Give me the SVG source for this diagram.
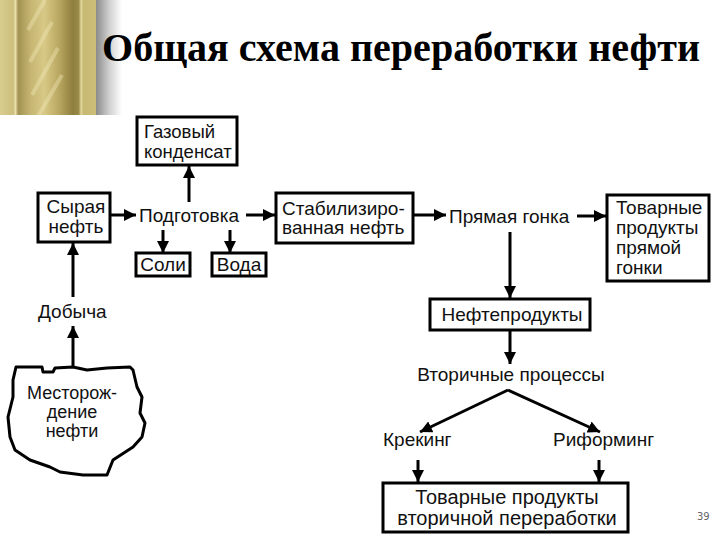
<svg xmlns="http://www.w3.org/2000/svg" width="720" height="540" viewBox="0 0 720 540">
<style>
.box{fill:#fff;stroke:#000;stroke-width:3}
.t{font-family:"Liberation Sans",Arial,sans-serif;font-size:19px;fill:#111}
.c{stroke:#000;stroke-width:3;fill:none}
</style>
<defs>
<linearGradient id="gold" x1="0" y1="0" x2="1" y2="0">
<stop offset="0" stop-color="#d9cd8e"/>
<stop offset="0.14" stop-color="#cdbf7c"/>
<stop offset="0.16" stop-color="#ece2ad"/>
<stop offset="0.19" stop-color="#a39352"/>
<stop offset="0.32" stop-color="#c6b672"/>
<stop offset="0.46" stop-color="#d8c987"/>
<stop offset="0.62" stop-color="#b7a65f"/>
<stop offset="0.76" stop-color="#8e7e3f"/>
<stop offset="0.82" stop-color="#9b8b49"/>
<stop offset="0.845" stop-color="#e2d79e"/>
<stop offset="0.87" stop-color="#c7b872"/>
<stop offset="1" stop-color="#cdbf7a"/>
</linearGradient>
<linearGradient id="shade" x1="0" y1="0" x2="1" y2="0">
<stop offset="0" stop-color="#8a8a8a"/>
<stop offset="0.5" stop-color="#cfcfcf"/>
<stop offset="1" stop-color="#ffffff"/>
</linearGradient>
<clipPath id="rod"><rect x="20" y="0" width="55" height="115"/></clipPath>
<marker id="ah" markerUnits="userSpaceOnUse" markerWidth="12" markerHeight="12" viewBox="0 0 12 12" refX="12" refY="6" orient="auto">
<path d="M0,0 L12,6 L0,12 z" fill="#000"/>
</marker>
</defs>
<rect width="720" height="540" fill="#fff"/>
<g id="decor">
<rect x="0" y="0" width="96" height="115" fill="url(#gold)"/>
<rect x="96" y="0" width="26" height="115" fill="url(#shade)"/>
<g clip-path="url(#rod)" stroke="#f3eab8" stroke-width="4" opacity="0.4">
<line x1="28" y1="30" x2="45" y2="0"/>
<line x1="30" y1="62" x2="52" y2="22"/>
<line x1="32" y1="95" x2="58" y2="48"/>
<line x1="36" y1="120" x2="62" y2="75"/>
</g>
</g>
<text id="title" x="102" y="61" font-family="'Liberation Serif','Times New Roman',serif" font-weight="bold" font-size="40" textLength="598" lengthAdjust="spacingAndGlyphs" fill="#000">Общая схема переработки нефти</text>
<g id="connectors">
<line class="c" x1="73" y1="297" x2="73" y2="243" marker-end="url(#ah)"/>
<line class="c" x1="73" y1="367" x2="73" y2="326" marker-end="url(#ah)"/>
<line class="c" x1="110" y1="215" x2="136" y2="215" marker-end="url(#ah)"/>
<line class="c" x1="189" y1="202" x2="189" y2="166" marker-end="url(#ah)"/>
<line class="c" x1="163" y1="230" x2="163" y2="253" marker-end="url(#ah)"/>
<line class="c" x1="230" y1="230" x2="230" y2="253" marker-end="url(#ah)"/>
<line class="c" x1="246" y1="215" x2="275" y2="215" marker-end="url(#ah)"/>
<line class="c" x1="413" y1="215" x2="446" y2="215" marker-end="url(#ah)"/>
<line class="c" x1="577" y1="216" x2="606" y2="216" marker-end="url(#ah)"/>
<line class="c" x1="510" y1="232" x2="510" y2="298" marker-end="url(#ah)"/>
<line class="c" x1="510" y1="331" x2="510" y2="364" marker-end="url(#ah)"/>
<line class="c" x1="508" y1="390" x2="420" y2="432" marker-end="url(#ah)"/>
<line class="c" x1="508" y1="390" x2="600" y2="432" marker-end="url(#ah)"/>
<line class="c" x1="418" y1="460" x2="418" y2="482" marker-end="url(#ah)"/>
<line class="c" x1="599" y1="460" x2="599" y2="482" marker-end="url(#ah)"/>
</g>
<g id="gas">
<rect class="box" x="137" y="117" width="100" height="48"/>
<text class="t" x="144" y="138" style="font-size:18.5px">Газовый</text>
<text class="t" x="144" y="158" style="font-size:18.5px">конденсат</text>
</g>
<g id="crude">
<rect class="box" x="38" y="193" width="72" height="49"/>
<text class="t" x="76" y="213" text-anchor="middle">Сырая</text>
<text class="t" x="76" y="233" text-anchor="middle">нефть</text>
</g>
<g id="prep">
<text class="t" x="139" y="222">Подготовка</text>
</g>
<g id="salts">
<rect class="box" x="136" y="253" width="54" height="23"/>
<text class="t" x="163" y="271" text-anchor="middle">Соли</text>
</g>
<g id="water">
<rect class="box" x="212" y="253" width="54" height="23"/>
<text class="t" x="239" y="271" text-anchor="middle">Вода</text>
</g>
<g id="stab">
<rect class="box" x="276" y="193" width="137" height="50"/>
<text class="t" x="282" y="215">Стабилизиро-</text>
<text class="t" x="282" y="234">ванная нефть</text>
</g>
<g id="straight">
<text class="t" x="449" y="223">Прямая гонка</text>
</g>
<g id="straightprod">
<rect class="box" x="607" y="195" width="102" height="86"/>
<text class="t" x="616" y="214">Товарные</text>
<text class="t" x="616" y="234">продукты</text>
<text class="t" x="616" y="254">прямой</text>
<text class="t" x="616" y="274">гонки</text>
</g>
<g id="oilprod">
<rect class="box" x="430" y="299" width="160" height="31"/>
<text class="t" x="512" y="321" text-anchor="middle">Нефтепродукты</text>
</g>
<g id="secondary">
<text class="t" x="511" y="381" text-anchor="middle">Вторичные процессы</text>
</g>
<g id="cracking">
<text class="t" x="383" y="446">Крекинг</text>
</g>
<g id="reforming">
<text class="t" x="553" y="446">Риформинг</text>
</g>
<g id="secprod">
<rect class="box" x="383" y="483" width="245" height="49"/>
<text class="t" x="507" y="504" text-anchor="middle" style="font-size:20px">Товарные продукты</text>
<text class="t" x="507" y="525" text-anchor="middle" style="font-size:20px">вторичной переработки</text>
</g>
<g id="production">
<text class="t" x="38" y="318">Добыча</text>
</g>
<g id="field">
<path d="M16,367 L42,367 L43,372 L53,372 L55,368 L73,367 L87,370 L107,368 L130,367 L133,370 L137,387 L142,397 L140,413 L145,423 L142,437 L133,447 L113,460 L107,475 L83,475 L60,472 L50,467 L30,460 L15,450 L10,437 L8,417 L13,397 L13,380 Z" fill="#fff" stroke="#000" stroke-width="3" stroke-linejoin="round"/>
<text class="t" x="72" y="399" text-anchor="middle" style="font-size:18px">Месторож-</text>
<text class="t" x="72" y="418" text-anchor="middle" style="font-size:18px">дение</text>
<text class="t" x="72" y="437" text-anchor="middle" style="font-size:18px">нефти</text>
</g>
<text id="page" x="697" y="520" font-family="'DejaVu Sans',sans-serif" font-size="10" fill="#666">39</text>
</svg>
